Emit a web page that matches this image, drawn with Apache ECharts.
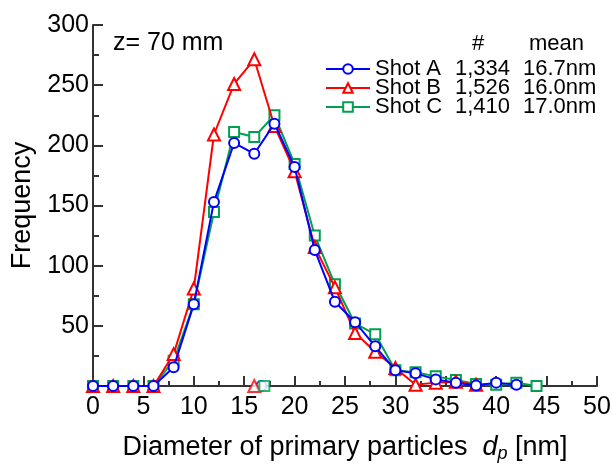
<!DOCTYPE html>
<html>
<head>
<meta charset="utf-8">
<script src="https://cdn.jsdelivr.net/npm/echarts@6/dist/echarts.min.js"></script>
<style>
  html, body { margin: 0; padding: 0; background: #fff; }
  #chart { width: 612px; height: 464px; }
</style>
</head>
<body>
<div id="chart"></div>
<script>
// Datos
const xA = [0, 2, 4, 6, 8, 10, 12, 14, 16, 18, 20, 22, 24, 26, 28, 30, 32, 34, 36, 38, 40, 42];
const shotA = [0, 0, 0, 0, 15.5, 68, 153, 202, 193, 218, 182, 113, 70, 53, 33, 13, 10.5, 5.5, 2.7, 0.5, 2.8, 1];
const xB = [0, 2, 4, 6, 8, 10, 12, 14, 16, 18, 20, 22, 24, 26, 28, 30, 32, 34, 36, 38];
const shotB = [0, 0, 0, 0, 26.5, 81, 209, 251, 271.5, 216, 178.5, 115.5, 82, 44, 28.5, 15, 1, 2.8, 3.6, 1];
const xC = [0, 2, 4, 6, 8, 10, 12, 14, 16, 18, 20, 22, 24, 26, 28, 30, 32, 34, 36, 38, 40, 42, 44];
const shotC = [0, 0, 0, 0, 21, 68, 144.5, 211, 207, 225, 184.5, 125, 84.5, 52, 43, 13, 11.5, 8, 5, 1.7, 1, 2.8, 0];

const names = ['Shot A', 'Shot B', 'Shot C'];
const counts = ['1,334', '1,526', '1,410'];
const means = [16.7, 16.0, 17.0];
const colors = ['#0000ff', '#ff0000', '#00a050'];
const symbols = ['emptyCircle', 'emptyTriangle', 'emptyRect'];
const symbolSizes = [10, 12, 10];

const font = 'Liberation Sans, Arial, sans-serif';

function pairs(xs, ys) {
    return xs.map((x, i) => [x, ys[i]]);
}

const lineData = [pairs(xA, shotA), pairs(xB, shotB), pairs(xC, shotC)];

let chart = echarts.init(document.getElementById('chart'));

let series = [];
names.forEach((n, i) => {
    series.push({
        name: n,
        type: 'line',
        data: lineData[i],
        symbol: symbols[i],
        symbolSize: symbolSizes[i],
        lineStyle: { color: colors[i], width: 2 },
        itemStyle: { color: colors[i], borderWidth: 2 },
        z: 5 - i
    });
});
// marcadores de la media sobre el eje
names.forEach((n, i) => {
    series.push({
        type: 'scatter',
        data: [[means[i], 0]],
        symbol: symbols[i],
        symbolSize: symbolSizes[i],
        itemStyle: { color: colors[i], borderWidth: 2 },
        clip: false,
        z: 5
    });
});

chart.setOption({
    animation: false,
    textStyle: { fontFamily: font },
    grid: { left: 93, right: 15, top: 25, bottom: 78, outerBoundsMode: 'none' },
    legend: {
        data: names,
        orient: 'vertical',
        left: 320,
        top: 53,
        itemWidth: 44,
        itemHeight: 12,
        itemGap: -3,
        itemTextGap: 7,
        formatter: function (name) {
            let i = names.indexOf(name);
            return '{a|' + name + '}{b|' + counts[i] + '}{c|' + means[i].toFixed(1) + 'nm}';
        },
        textStyle: {
            fontFamily: font,
            fontSize: 22,
            color: '#000',
            rich: {
                a: { width: 80, fontSize: 22, fontFamily: font },
                b: { width: 68, fontSize: 22, fontFamily: font },
                c: { fontSize: 22, fontFamily: font }
            }
        }
    },
    graphic: [
        { type: 'text', left: 113, top: 31, style: { text: 'z= 70 mm', font: '25px ' + font, fill: '#000' } },
        { type: 'text', left: 472, top: 33, style: { text: '#', font: '22px ' + font, fill: '#000' } },
        { type: 'text', left: 529, top: 33, style: { text: 'mean', font: '22px ' + font, fill: '#000' } }
    ],
    xAxis: {
        type: 'value',
        min: 0,
        max: 50,
        interval: 5,
        name: '{n|Diameter of primary particles  }{i|d}{s|p}{n| [nm]}',
        nameLocation: 'middle',
        nameGap: 46,
        nameTextStyle: {
            rich: {
                n: { fontSize: 27, fontFamily: font, color: '#000' },
                i: { fontSize: 27, fontFamily: font, fontStyle: 'italic', color: '#000' },
                s: { fontSize: 18, fontFamily: font, fontStyle: 'italic', color: '#000', padding: [13, 0, 0, 0] }
            }
        },
        axisLine: { show: true, lineStyle: { color: '#333', width: 2 } },
        axisTick: { show: true, inside: true, length: 10, lineStyle: { color: '#333', width: 2 } },
        minorTick: { show: true, splitNumber: 2, length: 5, lineStyle: { color: '#333', width: 2 } },
        splitLine: { show: false },
        axisLabel: { fontSize: 25, fontFamily: font, color: '#000', margin: 9 }
    },
    yAxis: {
        type: 'value',
        min: 0,
        max: 300,
        interval: 50,
        name: 'Frequency',
        nameLocation: 'middle',
        nameGap: 57,
        nameTextStyle: { fontSize: 27, fontFamily: font, color: '#000' },
        axisLine: { show: true, lineStyle: { color: '#333', width: 2 } },
        axisTick: { show: true, inside: true, length: 10, lineStyle: { color: '#333', width: 2 } },
        minorTick: { show: true, splitNumber: 2, length: 6, lineStyle: { color: '#333', width: 2 } },
        splitLine: { show: false },
        axisLabel: {
            fontSize: 25, fontFamily: font, color: '#000', margin: 4,
            formatter: v => (v === 0 ? '' : String(v))
        }
    },
    series: series
});
</script>
</body>
</html>
